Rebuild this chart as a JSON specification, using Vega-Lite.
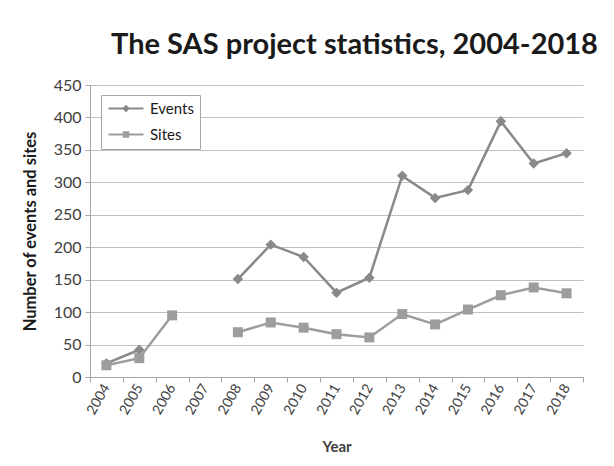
{
  "$schema": "https://vega.github.io/schema/vega-lite/v6.json",
  "autosize": "none",
  "width": 493,
  "height": 292,
  "padding": {"left": 90, "top": 85, "right": 31, "bottom": 89},
  "background": "white",
  "title": {
    "text": "The SAS project statistics, 2004-2018",
    "font": "Lato",
    "fontSize": 29,
    "fontWeight": "bold",
    "color": "#1a1a1a",
    "anchor": "middle",
    "dx": 18,
    "dy": 12,
    "offset": 0,
    "baseline": "bottom"
  },
  "config": {
    "view": {"stroke": null},
    "font": "Lato"
  },
  "data": {
    "values": [
      {"year": "2004", "series": "Events", "value": 21},
      {"year": "2005", "series": "Events", "value": 42},
      {"year": "2006", "series": "Events", "value": null},
      {"year": "2007", "series": "Events", "value": null},
      {"year": "2008", "series": "Events", "value": 151},
      {"year": "2009", "series": "Events", "value": 204},
      {"year": "2010", "series": "Events", "value": 185},
      {"year": "2011", "series": "Events", "value": 130},
      {"year": "2012", "series": "Events", "value": 153},
      {"year": "2013", "series": "Events", "value": 310},
      {"year": "2014", "series": "Events", "value": 276},
      {"year": "2015", "series": "Events", "value": 288},
      {"year": "2016", "series": "Events", "value": 394},
      {"year": "2017", "series": "Events", "value": 329},
      {"year": "2018", "series": "Events", "value": 345},
      {"year": "2004", "series": "Sites", "value": 18},
      {"year": "2005", "series": "Sites", "value": 29},
      {"year": "2006", "series": "Sites", "value": 95},
      {"year": "2007", "series": "Sites", "value": null},
      {"year": "2008", "series": "Sites", "value": 69},
      {"year": "2009", "series": "Sites", "value": 84},
      {"year": "2010", "series": "Sites", "value": 76},
      {"year": "2011", "series": "Sites", "value": 66},
      {"year": "2012", "series": "Sites", "value": 61},
      {"year": "2013", "series": "Sites", "value": 97},
      {"year": "2014", "series": "Sites", "value": 81},
      {"year": "2015", "series": "Sites", "value": 104},
      {"year": "2016", "series": "Sites", "value": 126},
      {"year": "2017", "series": "Sites", "value": 138},
      {"year": "2018", "series": "Sites", "value": 129}
    ]
  },
  "encoding": {
    "x": {
      "field": "year",
      "type": "ordinal",
      "scale": {"type": "band", "paddingInner": 0, "paddingOuter": 0},
      "axis": {
        "title": "Year",
        "titleFont": "Lato",
        "titleFontSize": 15,
        "titleFontWeight": "bold",
        "titleColor": "#404040",
        "titlePadding": 23,
        "labelAngle": -60,
        "labelFont": "Lato",
        "labelFontSize": 14,
        "labelColor": "#404040",
        "labelPadding": 3,
        "tickBand": "extent",
        "tickSize": 5,
        "tickColor": "#a6a6a6",
        "domainColor": "#a6a6a6",
        "grid": false
      }
    },
    "y": {
      "field": "value",
      "type": "quantitative",
      "scale": {"domain": [0, 450], "nice": false},
      "axis": {
        "title": "Number of events and sites",
        "titleFont": "Lato",
        "titleFontSize": 16.5,
        "titleFontWeight": "bold",
        "titleColor": "#1a1a1a",
        "titlePadding": 15,
        "values": [0, 50, 100, 150, 200, 250, 300, 350, 400, 450],
        "labelFont": "Lato",
        "labelFontSize": 16,
        "labelColor": "#404040",
        "labelPadding": 4,
        "tickSize": 5,
        "tickColor": "#a6a6a6",
        "domainColor": "#a6a6a6",
        "grid": true,
        "gridColor": "#c0c0c0",
        "gridWidth": 1
      }
    }
  },
  "layer": [
    {
      "mark": {"type": "line", "strokeWidth": 2.5, "invalid": "break-paths-show-domains"},
      "encoding": {
        "color": {
          "field": "series",
          "type": "nominal",
          "scale": {"domain": ["Events", "Sites"], "range": ["#898989", "#9d9d9d"]},
          "legend": {
            "title": null,
            "orient": "none",
            "legendX": 11,
            "legendY": 10,
            "labelFont": "Lato",
            "labelFontSize": 15,
            "labelColor": "#1a1a1a",
            "symbolSize": 144,
            "symbolStrokeWidth": 2,
            "rowPadding": 10,
            "padding": 6,
            "strokeColor": "#a6a6a6",
            "fillColor": "white",
            "labelOffset": 28,
            "encode": {
              "symbols": {
                "update": {
                  "shape": {"signal": "datum.value === 'Events' ? 'M-1,0H4.83M1.92,-0.4L2.32,0L1.92,0.4L1.52,0Z' : 'M-1,0H4.83M1.55,-0.36H2.29V0.36H1.55Z'"},
                  "fill": {"signal": "datum.value === 'Events' ? '#898989' : '#9d9d9d'"},
                  "strokeWidth": {"value": 2},
                  "opacity": {"value": 1}
                }
              }
            }
          }
        }
      }
    },
    {
      "transform": [{"filter": "datum.series === 'Events'"}],
      "mark": {"type": "point", "shape": "diamond", "filled": true, "opacity": 1, "size": 110, "color": "#898989", "invalid": "break-paths-show-domains"}
    },
    {
      "transform": [{"filter": "datum.series === 'Sites'"}],
      "mark": {"type": "point", "shape": "square", "filled": true, "opacity": 1, "size": 100, "color": "#9d9d9d", "invalid": "break-paths-show-domains"}
    }
  ]
}
